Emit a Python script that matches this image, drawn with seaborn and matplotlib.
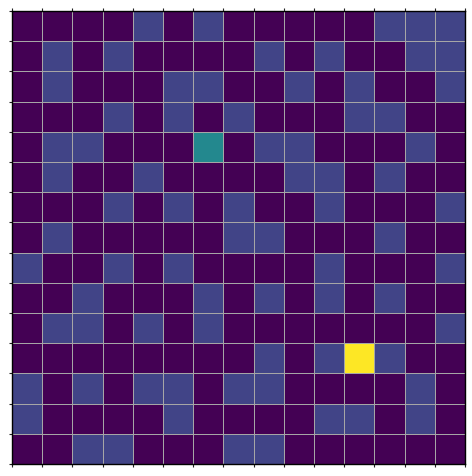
import numpy as np
import matplotlib
matplotlib.use("Agg")
import matplotlib.pyplot as plt
import seaborn as sns

# cell values (0 = dark, 3 = blue, 7 = teal, 15 = yellow)
row_00 = [0, 0, 0, 0, 3, 0, 3, 0, 0, 0, 0, 0, 3, 3, 3]
row_01 = [0, 3, 0, 3, 0, 0, 0, 0, 3, 0, 3, 0, 0, 3, 3]
row_02 = [0, 3, 0, 0, 0, 3, 3, 0, 0, 3, 0, 3, 0, 0, 3]
row_03 = [0, 0, 0, 3, 0, 3, 0, 3, 0, 0, 0, 3, 3, 0, 0]
row_04 = [0, 3, 3, 0, 0, 0, 7, 0, 3, 3, 0, 0, 0, 3, 0]
row_05 = [0, 3, 0, 0, 3, 0, 0, 0, 0, 3, 3, 0, 3, 0, 0]
row_06 = [0, 0, 0, 3, 0, 3, 0, 3, 0, 0, 3, 0, 0, 0, 3]
row_07 = [0, 3, 0, 0, 0, 0, 0, 3, 3, 0, 0, 0, 3, 0, 0]
row_08 = [3, 0, 0, 3, 0, 3, 0, 0, 0, 0, 3, 0, 0, 0, 3]
row_09 = [0, 0, 3, 0, 0, 0, 3, 0, 3, 0, 3, 0, 3, 0, 0]
row_10 = [0, 3, 3, 0, 3, 0, 3, 0, 0, 0, 0, 0, 0, 0, 3]
row_11 = [0, 0, 0, 0, 0, 0, 0, 0, 3, 0, 3, 15, 3, 0, 0]
row_12 = [3, 0, 3, 0, 3, 3, 0, 3, 3, 0, 0, 0, 0, 3, 0]
row_13 = [3, 0, 0, 0, 0, 3, 0, 0, 0, 0, 3, 3, 0, 3, 0]
row_14 = [0, 0, 3, 3, 0, 0, 0, 3, 3, 0, 0, 0, 0, 0, 0]

grid = np.array([row_00, row_01, row_02, row_03, row_04, row_05, row_06,
                 row_07, row_08, row_09, row_10, row_11, row_12, row_13, row_14])

fig = plt.figure(figsize=(4.72, 4.76), dpi=100)
ax = fig.add_axes([12 / 472, 12 / 476, 453 / 472, 453 / 476])

sns.heatmap(grid, ax=ax, cmap="viridis", vmin=0, vmax=15, cbar=False,
            linewidths=0.7, linecolor="#a6a6a6", square=False)

# ticks on cell edges, no labels
n = grid.shape[0]
ax.set_xticks(np.arange(n + 1))
ax.set_yticks(np.arange(n + 1))
ax.set_xticklabels([])
ax.set_yticklabels([])
ax.tick_params(top=True, bottom=True, left=True, right=False,
               length=2, width=0.8, color="#222222")

for s in ax.spines.values():
    s.set_visible(True)
    s.set_color("black")
    s.set_linewidth(1.0)

fig.savefig("out.png", dpi=100)
